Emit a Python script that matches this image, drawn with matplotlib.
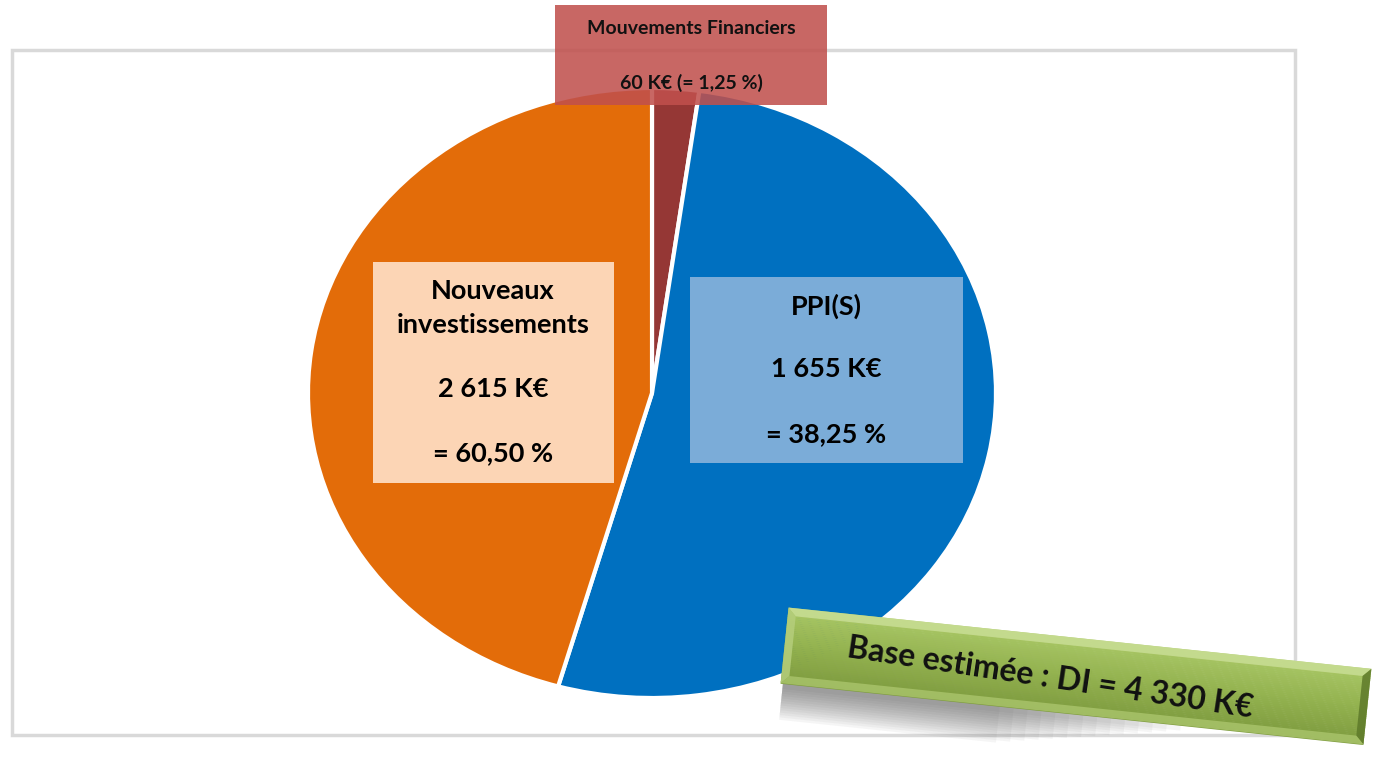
import matplotlib
matplotlib.use("Agg")
import matplotlib.pyplot as plt
import numpy as np
from matplotlib.patches import Rectangle, Polygon
from matplotlib.transforms import Affine2D
from matplotlib.colors import LinearSegmentedColormap

# ---- data ----
categories = ["Mouvements Financiers", "PPI(S)", "Nouveaux investissements"]
amounts_keur = [60, 1655, 2615]
pct_labels = ["1,25", "38,25", "60,50"]
slice_shares = [2.2, 52.2, 45.6]          # shares as drawn in the picture
slice_colors = ["#953735", "#0070C0", "#E36C09"]
total_keur = 4330

def fmt_k(v):
    return f"{v:,}".replace(",", " ") + " K€"

W, H = 1373, 757
fig = plt.figure(figsize=(W / 100, H / 100), dpi=100)
fig.patch.set_facecolor("white")
FONT = ["Lato", "DejaVu Sans"]

# ---- pie (elliptical) ----
cx, cy, rx, ry = 652, 393, 344, 305
axp = fig.add_axes([(cx - rx) / W, 1 - (cy + ry) / H, 2 * rx / W, 2 * ry / H], zorder=1)
axp.pie(slice_shares, colors=slice_colors, startangle=90, counterclock=False,
        wedgeprops=dict(edgecolor="white", linewidth=3))
axp.set_aspect("auto")
axp.set_xlim(-1, 1)
axp.set_ylim(-1, 1)
axp.axis("off")

# ---- overlay in pixel coordinates ----
ax = fig.add_axes([0, 0, 1, 1], zorder=2)
ax.set_xlim(0, W)
ax.set_ylim(H, 0)
ax.axis("off")
ax.patch.set_alpha(0)

# plot-area border
ax.add_patch(Rectangle((12, 50), 1283, 685, fill=False, edgecolor="#D9D9D9", lw=2.5, zorder=1))

# red label box
ax.add_patch(Rectangle((555, 5), 272, 100, facecolor="#C0504D", alpha=0.87, lw=0, zorder=3))
ax.text(691, 28, categories[0], ha="center", va="center", fontsize=14, fontweight="bold",
        family=FONT, color="#111111", zorder=4)
ax.text(691, 83, f"{fmt_k(amounts_keur[0])} (= {pct_labels[0]} %)", ha="center", va="center",
        fontsize=14, fontweight="bold", family=FONT, color="#111111", zorder=4)

FS = 19.5
# orange label box
ax.add_patch(Rectangle((373, 262), 241, 221, facecolor="#FCD5B5", lw=0, zorder=3))
ob = 493
ax.text(ob, 291, "Nouveaux", ha="center", va="center", fontsize=FS, fontweight="bold", family=FONT, zorder=4)
ax.text(ob, 325, "investissements", ha="center", va="center", fontsize=FS, fontweight="bold", family=FONT, zorder=4)
ax.text(ob, 389, fmt_k(amounts_keur[2]), ha="center", va="center", fontsize=FS, fontweight="bold", family=FONT, zorder=4)
ax.text(ob, 453, f"= {pct_labels[2]} %", ha="center", va="center", fontsize=FS, fontweight="bold", family=FONT, zorder=4)

# blue label box
ax.add_patch(Rectangle((690, 277), 273, 186, facecolor="#7BACD8", lw=0, zorder=3))
bb = 826
ax.text(bb, 306, categories[1], ha="center", va="center", fontsize=FS, fontweight="bold", family=FONT, zorder=4)
ax.text(bb, 369, fmt_k(amounts_keur[1]), ha="center", va="center", fontsize=FS, fontweight="bold", family=FONT, zorder=4)
ax.text(bb, 434, f"= {pct_labels[1]} %", ha="center", va="center", fontsize=FS, fontweight="bold", family=FONT, zorder=4)

# ---- green banner ----
bcx, bcy, bw, bh, ang = 1076, 676, 586, 76, 6.0
rot = Affine2D().rotate_deg_around(0, 0, ang).translate(bcx, bcy)
def banner_poly(dx0, dy0, dx1, dy1):
    pts = np.array([[dx0, dy0], [dx1, dy0], [dx1, dy1], [dx0, dy1]])
    return rot.transform(pts)

# shadow (mainly under the left half)
for i in range(14):
    off = 2 + i * 2.4
    sp = banner_poly(-bw / 2 + 6, -bh / 2 + 10, bw / 2 - 180 - i * 14, bh / 2 + off)
    sp = sp + np.array([-4, 3])
    ax.add_patch(Polygon(sp, closed=True, facecolor="#4a4a4a", alpha=0.05, lw=0, zorder=5))

# gradient body: light at top, darker at bottom
cmap = LinearSegmentedColormap.from_list("g", ["#A9C766", "#93B24F", "#7E9B3F"])
nstrip = 40
edges = np.linspace(-bh / 2, bh / 2, nstrip + 1)
for k in range(nstrip):
    ax.add_patch(Polygon(banner_poly(-bw / 2, edges[k], bw / 2, edges[k + 1] + 0.6), closed=True,
                         facecolor=cmap(k / (nstrip - 1)), lw=0, zorder=6))

# bevel edges
b = 8
inner = banner_poly(-bw/2+b, -bh/2+b, bw/2-b, bh/2-b)
outp = banner_poly(-bw/2, -bh/2, bw/2, bh/2)
bevel = [((0, 1), "#C9DE95"), ((1, 2), "#5E7A2A"), ((2, 3), "#A8C36A"), ((3, 0), "#B5CE7C")]
for (i0, i1), col in bevel:
    ax.add_patch(Polygon(np.vstack([outp[[i0, i1]], inner[[i1, i0]]]), closed=True,
                         facecolor=col, alpha=0.85, lw=0, zorder=7))

ax.text(1050, 678, f"Base estimée : DI = {fmt_k(total_keur)}", ha="center", va="center",
        rotation=-8.5, rotation_mode="anchor", fontsize=23, fontweight="bold", family=FONT,
        color="#111111", zorder=8)

fig.savefig("out.png", dpi=100, facecolor="white")
